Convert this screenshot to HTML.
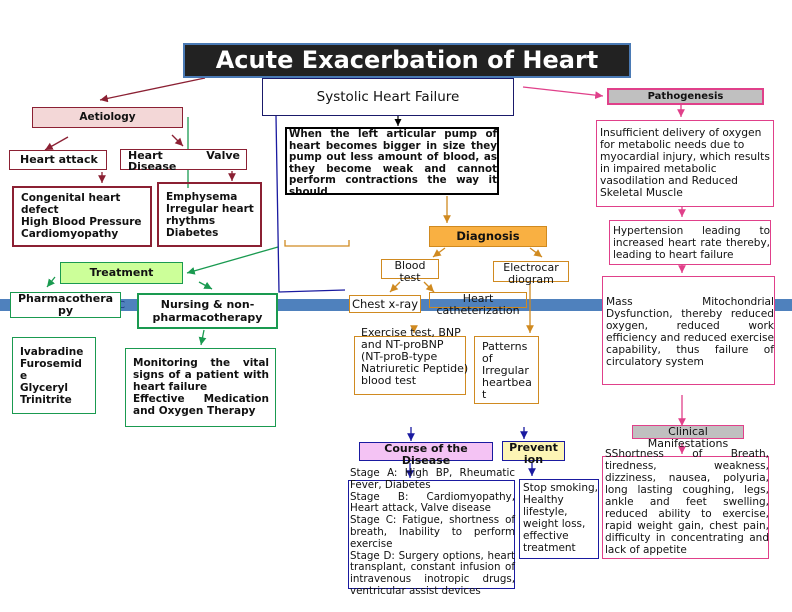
<!DOCTYPE html>
<html><head><meta charset="utf-8"><style>
body{margin:0;width:792px;height:612px;position:relative;background:#fff;font-family:"DejaVu Sans","Liberation Sans",sans-serif;overflow:hidden;color:#111}
.b{position:absolute;box-sizing:border-box;background:#fff;font-size:10.5px;line-height:12px;}
.j{text-align:justify;text-align-last:left}
.c{text-align:center}
.bold{font-weight:bold}
svg{position:absolute;left:0;top:0}
</style></head><body>
<div style="position:absolute;left:0;top:299px;width:792px;height:12px;background:#4f81bd"></div>
<div style="position:absolute;left:112px;top:300px;font-size:10px;color:#1f3a80">.IC</div>

<svg width="792" height="612">
<defs>
<marker id="r" markerWidth="8" markerHeight="8" refX="6" refY="3" orient="auto"><path d="M0,0L6,3L0,6z" fill="#8b2033"/></marker>
<marker id="g" markerWidth="8" markerHeight="8" refX="6" refY="3" orient="auto"><path d="M0,0L6,3L0,6z" fill="#1a9a50"/></marker>
<marker id="o" markerWidth="8" markerHeight="8" refX="6" refY="3" orient="auto"><path d="M0,0L6,3L0,6z" fill="#d08a20"/></marker>
<marker id="p" markerWidth="8" markerHeight="8" refX="6" refY="3" orient="auto"><path d="M0,0L6,3L0,6z" fill="#e0408a"/></marker>
<marker id="n" markerWidth="8" markerHeight="8" refX="6" refY="3" orient="auto"><path d="M0,0L6,3L0,6z" fill="#1a1aa0"/></marker>
<marker id="k" markerWidth="8" markerHeight="8" refX="6" refY="3" orient="auto"><path d="M0,0L6,3L0,6z" fill="#000"/></marker>
</defs>
<g stroke="#8b2033" stroke-width="1.3" fill="none">
<line x1="205" y1="78" x2="100" y2="100" marker-end="url(#r)"/>
<line x1="68" y1="137" x2="45" y2="150" marker-end="url(#r)"/>
<line x1="172" y1="135" x2="183" y2="146" marker-end="url(#r)"/>
<line x1="102" y1="172" x2="102" y2="183" marker-end="url(#r)"/>
<line x1="232" y1="171" x2="232" y2="181" marker-end="url(#r)"/>
</g>
<g stroke="#1a9a50" stroke-width="1.3" fill="none">
<line x1="188" y1="117" x2="188" y2="188"/>
<line x1="278" y1="247" x2="187" y2="273" marker-end="url(#g)"/>
<line x1="55" y1="277" x2="47" y2="287" marker-end="url(#g)"/>
<line x1="199" y1="282" x2="212" y2="289" marker-end="url(#g)"/>
<line x1="204" y1="330" x2="201" y2="345" marker-end="url(#g)"/>
</g>
<g stroke="#1a1aa0" stroke-width="1.3" fill="none">
<polyline points="276,116 279,292 345,290"/>
<line x1="411" y1="427" x2="411" y2="441" marker-end="url(#n)"/>
<line x1="410" y1="463" x2="410" y2="478" marker-end="url(#n)"/>
<line x1="524" y1="427" x2="524" y2="439" marker-end="url(#n)"/>
<line x1="532" y1="463" x2="532" y2="476" marker-end="url(#n)"/>
</g>
<g stroke="#000" stroke-width="1.2">
<line x1="398" y1="62" x2="398" y2="76" marker-end="url(#k)"/>
<line x1="398" y1="116" x2="398" y2="126" marker-end="url(#k)"/>
</g>
<g stroke="#d08a20" stroke-width="1.3" fill="none">
<line x1="447" y1="196" x2="447" y2="223" marker-end="url(#o)"/>
<line x1="445" y1="248" x2="433" y2="257" marker-end="url(#o)"/>
<line x1="530" y1="248" x2="542" y2="257" marker-end="url(#o)"/>
<line x1="400" y1="282" x2="390" y2="292" marker-end="url(#o)"/>
<line x1="424" y1="282" x2="434" y2="292" marker-end="url(#o)"/>
<line x1="530" y1="283" x2="530" y2="333" marker-end="url(#o)"/>
<line x1="414" y1="326" x2="414" y2="333" marker-end="url(#o)"/>
<polyline points="285,240 285,246 349,246 349,240"/>
</g>
<g stroke="#e0408a" stroke-width="1.3" fill="none">
<line x1="523" y1="87" x2="603" y2="96" marker-end="url(#p)"/>
<line x1="681" y1="105" x2="681" y2="117" marker-end="url(#p)"/>
<line x1="682" y1="207" x2="682" y2="217" marker-end="url(#p)"/>
<line x1="682" y1="265" x2="682" y2="273" marker-end="url(#p)"/>
<line x1="682" y1="395" x2="682" y2="426" marker-end="url(#p)"/>
<line x1="682" y1="443" x2="682" y2="454" marker-end="url(#p)"/>
</g>
</svg>

<div class="b c bold" style="left:183px;top:43px;width:448px;height:35px;background:#222;border:2px solid #4a7ab5;color:#fff;font-size:24px;line-height:30px">Acute Exacerbation of Heart</div>
<div class="b c" style="left:262px;top:78px;width:252px;height:38px;border:1.5px solid #1a1a6a;font-size:13.5px;line-height:36px">Systolic Heart Failure</div>
<div class="b j bold" style="left:285px;top:127px;width:214px;height:68px;border:2px solid #000;font-size:10.3px;line-height:11.5px;padding:0 0 0 2px;overflow:hidden">When the left articular pump of heart becomes bigger in size they pump out less amount of blood, as they become weak and cannot perform contractions the way it should</div>

<div class="b c bold" style="left:429px;top:226px;width:118px;height:21px;background:#f9b042;border:1.5px solid #d08a20;font-size:11.5px;line-height:19px">Diagnosis</div>
<div class="b c" style="left:381px;top:261px;width:58px;height:20px;border:1.5px solid #d08a20;font-size:11px;line-height:12px;margin-top:-2px;background:transparent">Blood<br>test</div>
<div class="b c" style="left:493px;top:261px;width:76px;height:21px;border:1.5px solid #d08a20;font-size:11px;line-height:12px">Electrocar<br>diogram</div>
<div class="b c" style="left:349px;top:295px;width:72px;height:18px;border:1.5px solid #d08a20;line-height:16px;font-size:11.5px">Chest x-ray</div>
<div class="b c" style="left:429px;top:295px;width:98px;height:16px;border:1px solid #d08a20;font-size:11px;line-height:12px;margin-top:-3px;background:transparent">Heart<br>catheterization</div>
<div class="b" style="left:354px;top:336px;width:112px;height:59px;border:1px solid #d08a20;background:transparent"></div>
<div style="position:absolute;left:361px;top:327px;width:108px;font-size:11px;line-height:12px">Exercise test, BNP and NT-proBNP (NT-proB-type Natriuretic Peptide) blood test</div>
<div class="b" style="left:474px;top:336px;width:65px;height:68px;border:1.5px solid #d08a20;padding:4px 0 0 7px;font-size:11px;line-height:12px">Patterns of Irregular heartbea t</div>

<div class="b c bold" style="left:359px;top:444px;width:134px;height:19px;background:#f4c3f4;border:1.5px solid #1a1aa0;font-size:11px;line-height:12px;margin-top:-2px">Course of the<br>Disease</div>
<div class="b c bold" style="left:502px;top:442px;width:63px;height:20px;background:#fdf5b5;border:1.5px solid #1a1aa0;font-size:11px;line-height:12px;margin-top:-1px">Prevent<br>ion</div>
<div class="b" style="left:348px;top:480px;width:167px;height:109px;border:1.5px solid #1a1aa0;background:transparent"></div>
<div class="j" style="position:absolute;left:350px;top:468px;width:165px;font-size:10.3px;line-height:11.8px">Stage A: High BP, Rheumatic Fever, Diabetes<br>Stage B: Cardiomyopathy, Heart attack, Valve disease<br>Stage C: Fatigue, shortness of breath, Inability to perform exercise<br>Stage D: Surgery options, heart transplant, constant infusion of intravenous inotropic drugs, ventricular assist devices</div>
<div class="b" style="left:519px;top:479px;width:80px;height:80px;border:1.5px solid #1a1aa0;padding:2px 0 0 3px;font-size:10.5px;line-height:12px">Stop smoking, Healthy lifestyle, weight loss, effective treatment</div>

<div class="b c bold" style="left:607px;top:88px;width:157px;height:17px;background:#c0c0c0;border:2px solid #e0408a;font-size:10px;line-height:13px">Pathogenesis</div>
<div class="b" style="left:596px;top:120px;width:178px;height:87px;border:1px solid #e0408a;padding:6px 2px 0 3px;font-size:10.7px;line-height:12px">Insufficient delivery of oxygen for metabolic needs due to myocardial injury, which results in impaired metabolic vasodilation and Reduced Skeletal Muscle</div>
<div class="b j" style="left:609px;top:220px;width:162px;height:45px;border:1.5px solid #e0408a;padding:4px 0 0 3px;font-size:10.5px;line-height:12px">Hypertension leading to increased heart rate thereby, leading to heart failure</div>
<div class="b j" style="left:602px;top:276px;width:173px;height:109px;border:1.5px solid #e0408a;padding:19px 0 0 3px;font-size:10.6px;line-height:12px">Mass Mitochondrial Dysfunction, thereby reduced oxygen, reduced work efficiency and reduced exercise capability, thus failure of circulatory system</div>
<div class="b c" style="left:632px;top:429px;width:112px;height:14px;background:#c0c0c0;border:1.5px solid #e0408a;font-size:11px;line-height:12px;margin-top:-4px;background-clip:content-box">Clinical<br>Manifestations</div>
<div class="b" style="left:602px;top:456px;width:167px;height:103px;border:1.5px solid #e0408a;background:transparent"></div>
<div class="j" style="position:absolute;left:605px;top:448px;width:164px;font-size:10.5px;line-height:12px">SShortness of Breath, tiredness, weakness, dizziness, nausea, polyuria, long lasting coughing, legs, ankle and feet swelling, reduced ability to exercise, rapid weight gain, chest pain, difficulty in concentrating and lack of appetite</div>

<div class="b c bold" style="left:32px;top:107px;width:151px;height:21px;background:#f3d7d7;border:1.5px solid #8b2033;line-height:18px">Aetiology</div>
<div class="b bold" style="left:9px;top:150px;width:98px;height:20px;border:1.5px solid #8b2033;padding-left:10px;line-height:17px;font-size:11px">Heart attack</div>
<div class="b j bold" style="left:120px;top:149px;width:127px;height:21px;border:1.5px solid #8b2033;padding:0 6px 0 7px;line-height:11px;font-size:11px">Heart Valve Disease</div>
<div class="b bold" style="left:12px;top:186px;width:140px;height:61px;border:2px solid #8b2033;padding:4px 0 0 7px;line-height:12px">Congenital heart defect<br>High Blood Pressure<br>Cardiomyopathy</div>
<div class="b bold" style="left:157px;top:182px;width:105px;height:65px;border:2px solid #8b2033;padding:7px 0 0 7px;line-height:12px;background:transparent">Emphysema<br>Irregular heart rhythms<br>Diabetes</div>

<div class="b c bold" style="left:60px;top:262px;width:123px;height:22px;background:#ccff99;border:1.5px solid #1a9a50;line-height:19px;font-size:11px">Treatment</div>
<div class="b c bold" style="left:10px;top:292px;width:111px;height:26px;border:1.5px solid #1a9a50;line-height:12px;font-size:11px">Pharmacothera<br>py</div>
<div class="b c bold" style="left:137px;top:293px;width:141px;height:36px;border:2px solid #1a9a50;padding-top:3px;line-height:13px;font-size:11px">Nursing &amp; non-<br>pharmacotherapy</div>
<div class="b bold" style="left:12px;top:337px;width:84px;height:77px;border:1.5px solid #1a9a50;padding:8px 0 0 7px;line-height:12px">Ivabradine<br>Furosemid<br>e<br>Glyceryl<br>Trinitrite</div>
<div class="b j bold" style="left:125px;top:348px;width:151px;height:79px;border:1.5px solid #1a9a50;padding:8px 6px 0 7px;line-height:12px">Monitoring the vital signs of a patient with heart failure<br>Effective Medication and Oxygen Therapy</div>
</body></html>
